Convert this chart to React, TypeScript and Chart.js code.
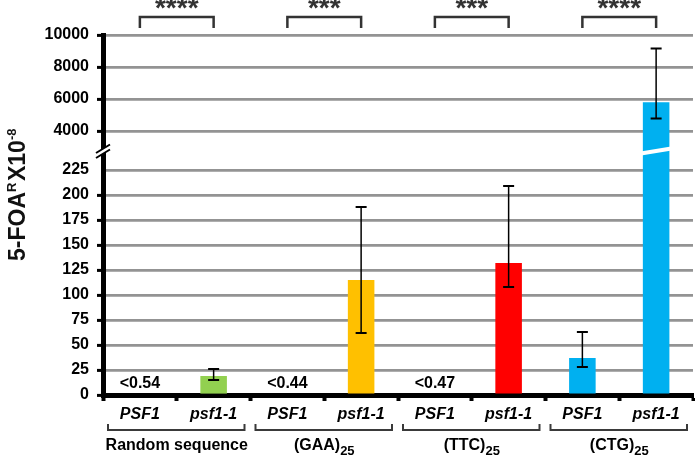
import React, { useEffect, useRef } from 'react';
import { Chart, LinearScale, registerables } from 'chart.js';

const categories = ['PSF1', 'psf1-1', 'PSF1', 'psf1-1', 'PSF1', 'psf1-1', 'PSF1', 'psf1-1'];
const values: (number | null)[] = [null, 19, null, 115, null, 132, 37, 5800];
const errLow: (number | null)[] = [null, 15, null, 62, null, 108, 28, 4780];
const errHigh: (number | null)[] = [null, 26, null, 188, null, 209, 63, 9150];
const barColors = ['#92d050', '#92d050', '#ffc000', '#ffc000', '#ff0000', '#ff0000', '#00b0f0', '#00b0f0'];
const belowLimit: (string | null)[] = ['<0.54', null, '<0.44', null, '<0.47', null, null, null];
const groups = ['Random sequence', '(GAA)', '(TTC)', '(CTG)'];
const groupSubs = ['', '25', '25', '25'];
const significance = ['****', '***', '***', '****'];
const yTicks = [0, 25, 50, 75, 100, 125, 150, 175, 200, 225, 4000, 6000, 8000, 10000];
const breakKnots = [0, 240, 3000, 10000];
const breakFracs = [0, 0.6667, 0.6889, 1];

const FONT = '"Liberation Sans", Arial, sans-serif';

function toFrac(v: number) {
  for (let i = 1; i < breakKnots.length; i++) {
    if (v <= breakKnots[i] || i === breakKnots.length - 1) {
      const a = breakKnots[i - 1], b = breakKnots[i];
      const fa = breakFracs[i - 1], fb = breakFracs[i];
      return fa + ((v - a) / (b - a)) * (fb - fa);
    }
  }
  return 0;
}
function fromFrac(f: number) {
  for (let i = 1; i < breakFracs.length; i++) {
    if (f <= breakFracs[i] || i === breakFracs.length - 1) {
      const a = breakFracs[i - 1], b = breakFracs[i];
      const va = breakKnots[i - 1], vb = breakKnots[i];
      return va + ((f - a) / (b - a)) * (vb - va);
    }
  }
  return 0;
}

class BrokenScale extends LinearScale {
  static id = 'broken';
  static defaults = {};
  buildTicks() {
    return yTicks.map((v) => ({ value: v }));
  }
  getPixelForValue(value: number) {
    if (value === null || value === undefined || isNaN(value)) return NaN;
    return (this as any).getPixelForDecimal(toFrac(value));
  }
  getValueForPixel(pixel: number) {
    return fromFrac((this as any).getDecimalForPixel(pixel));
  }
}

Chart.register(...registerables, BrokenScale as any);

function richWidth(ctx: CanvasRenderingContext2D, parts: { t: string; size: number }[]) {
  let w = 0;
  for (const p of parts) {
    ctx.font = `bold ${p.size}px ${FONT}`;
    w += ctx.measureText(p.t).width + (p.size < 20 ? 1.5 : 0);
  }
  return w;
}

const decorPlugin = {
  id: 'decor',
  afterDatasetsDraw(chart: any) {
    const ctx: CanvasRenderingContext2D = chart.ctx;
    const xs = chart.scales.x;
    const ys = chart.scales.y;
    const meta = chart.getDatasetMeta(0);
    ctx.save();
    // break in the tall bar
    const breakY = (ys.getPixelForValue(breakKnots[1]) + ys.getPixelForValue(breakKnots[2])) / 2;
    values.forEach((v, i) => {
      if (v !== null && v > breakKnots[2]) {
        const el = meta.data[i];
        const half = el.width / 2;
        ctx.strokeStyle = '#ffffff';
        ctx.lineWidth = 4;
        ctx.beginPath();
        ctx.moveTo(el.x - half - 2, breakY + 2.5);
        ctx.lineTo(el.x + half + 2, breakY - 2.5);
        ctx.stroke();
      }
    });
    // error bars
    ctx.strokeStyle = '#000';
    values.forEach((v, i) => {
      const lo = errLow[i], hi = errHigh[i];
      if (lo === null || hi === null) return;
      const x = xs.getPixelForValue(i);
      const y1 = ys.getPixelForValue(lo);
      const y2 = ys.getPixelForValue(hi);
      ctx.lineWidth = 1.5;
      ctx.beginPath();
      ctx.moveTo(x, y1);
      ctx.lineTo(x, y2);
      ctx.stroke();
      ctx.lineWidth = 2;
      ctx.beginPath();
      ctx.moveTo(x - 5.5, y1);
      ctx.lineTo(x + 5.5, y1);
      ctx.moveTo(x - 5.5, y2);
      ctx.lineTo(x + 5.5, y2);
      ctx.stroke();
    });
    // below detection labels
    ctx.fillStyle = '#000';
    ctx.font = `bold 16px ${FONT}`;
    ctx.textAlign = 'center';
    ctx.textBaseline = 'alphabetic';
    belowLimit.forEach((t, i) => {
      if (!t) return;
      ctx.fillText(t, xs.getPixelForValue(i), ys.getPixelForValue(0) - 7);
    });
    ctx.restore();
  },
  afterDraw(chart: any) {
    const ctx: CanvasRenderingContext2D = chart.ctx;
    const xs = chart.scales.x;
    const ys = chart.scales.y;
    const area = chart.chartArea;
    ctx.save();
    // axis break marks
    const yb = (ys.getPixelForValue(breakKnots[1]) + ys.getPixelForValue(breakKnots[2])) / 2;
    const ax = area.left;
    ctx.fillStyle = '#fff';
    ctx.beginPath();
    ctx.moveTo(ax - 4, yb + 5.5);
    ctx.lineTo(ax + 4, yb + 0.5);
    ctx.lineTo(ax + 4, yb - 5);
    ctx.lineTo(ax - 4, yb);
    ctx.closePath();
    ctx.fill();
    ctx.strokeStyle = '#000';
    ctx.lineWidth = 2;
    ctx.beginPath();
    ctx.moveTo(ax - 7, yb + 7);
    ctx.lineTo(ax + 7, yb - 1.5);
    ctx.moveTo(ax - 7, yb + 2);
    ctx.lineTo(ax + 7, yb - 6.5);
    ctx.stroke();

    // y title
    ctx.fillStyle = '#111';
    ctx.textBaseline = 'alphabetic';
    ctx.textAlign = 'left';
    const parts = [
      { t: '5-FOA', size: 23, dy: 0 },
      { t: 'R', size: 13, dy: -9 },
      { t: 'X10', size: 23, dy: 0 },
      { t: '-8', size: 13, dy: -9 },
    ];
    ctx.save();
    ctx.translate(25, 194);
    ctx.rotate(-Math.PI / 2);
    let tx = -richWidth(ctx, parts) / 2;
    for (const p of parts) {
      ctx.font = `bold ${p.size}px ${FONT}`;
      ctx.fillText(p.t, tx, p.dy);
      tx += ctx.measureText(p.t).width + (p.size < 20 ? 1.5 : 0);
    }
    ctx.restore();

    // groups
    const cw = xs.getPixelForValue(1) - xs.getPixelForValue(0);
    groups.forEach((g, gi) => {
      const c0 = xs.getPixelForValue(gi * 2);
      const c1 = xs.getPixelForValue(gi * 2 + 1);
      const mid = (c0 + c1) / 2;
      // bottom bracket
      const l = c0 - cw / 2 + 5;
      const r = c1 + cw / 2 - 6;
      ctx.strokeStyle = '#3a3a3a';
      ctx.lineWidth = 2;
      ctx.beginPath();
      ctx.moveTo(l, 424);
      ctx.lineTo(l, 430);
      ctx.lineTo(r, 430);
      ctx.lineTo(r, 424);
      ctx.stroke();
      // group label with subscript
      ctx.fillStyle = '#000';
      ctx.font = `bold 16px ${FONT}`;
      const mainW = ctx.measureText(g).width;
      ctx.font = `bold 13px ${FONT}`;
      const subW = groupSubs[gi] ? ctx.measureText(groupSubs[gi]).width : 0;
      const sx = mid - (mainW + subW) / 2;
      ctx.textAlign = 'left';
      ctx.font = `bold 16px ${FONT}`;
      ctx.fillText(g, sx, 450);
      if (groupSubs[gi]) {
        ctx.font = `bold 13px ${FONT}`;
        ctx.fillText(groupSubs[gi], sx + mainW, 455);
      }
      // significance bracket
      ctx.strokeStyle = '#333';
      ctx.lineWidth = 2.5;
      ctx.beginPath();
      ctx.moveTo(c0, 28);
      ctx.lineTo(c0, 17);
      ctx.lineTo(c1, 17);
      ctx.lineTo(c1, 28);
      ctx.stroke();
      ctx.fillStyle = '#333';
      ctx.textAlign = 'center';
      ctx.font = `bold 28px ${FONT}`;
      ctx.fillText(significance[gi], mid, 17);
    });
    ctx.restore();
  },
};

export default function App() {
  const ref = useRef<HTMLCanvasElement>(null);
  useEffect(() => {
    document.body.style.margin = '0';
    const canvas = ref.current!;
    const chart = new Chart(canvas, {
      type: 'bar',
      data: {
        labels: categories,
        datasets: [
          {
            data: values as any,
            backgroundColor: barColors,
            borderWidth: 0,
            barPercentage: 0.36,
            categoryPercentage: 1,
          },
        ],
      },
      options: {
        responsive: false,
        animation: false,
        devicePixelRatio: 1,
        layout: { padding: { top: 35, right: 2, bottom: 0, left: 0 } },
        plugins: { legend: { display: false }, tooltip: { enabled: false } },
        scales: {
          x: {
            grid: { drawOnChartArea: false, offset: true, tickLength: 6, tickWidth: 4, tickColor: '#000' },
            border: { display: true, color: '#000', width: 5 },
            ticks: {
              font: { family: FONT, size: 16, weight: 'bold', style: 'italic' },
              color: '#000',
              padding: 4,
              autoSkip: false,
              maxRotation: 0,
            },
            afterFit: (s: any) => {
              s.height = 61;
            },
          },
          y: {
            type: 'broken' as any,
            min: 0,
            max: 10000,
            grid: {
              color: (c: any) => (c.tick && c.tick.value === 0 ? 'rgba(0,0,0,0)' : '#939393'),
              lineWidth: 2.8,
              tickLength: 6,
              tickWidth: 3,
              tickColor: (c: any) => (c.tick && c.tick.value === 225 ? 'rgba(0,0,0,0)' : '#000'),
            },
            border: { display: true, color: '#000', width: 5 },
            ticks: {
              autoSkip: false,
              callback: (v: any) => String(v),
              font: { family: FONT, size: 16, weight: 'bold' },
              color: '#000',
              padding: 8,
            },
            afterFit: (s: any) => {
              s.width = 103;
            },
          } as any,
        },
      },
      plugins: [decorPlugin],
    });
    return () => chart.destroy();
  }, []);
  return (
    <div style={{ width: 695, height: 456 }}>
      <canvas ref={ref} width={695} height={456} style={{ display: 'block' }} />
    </div>
  );
}
